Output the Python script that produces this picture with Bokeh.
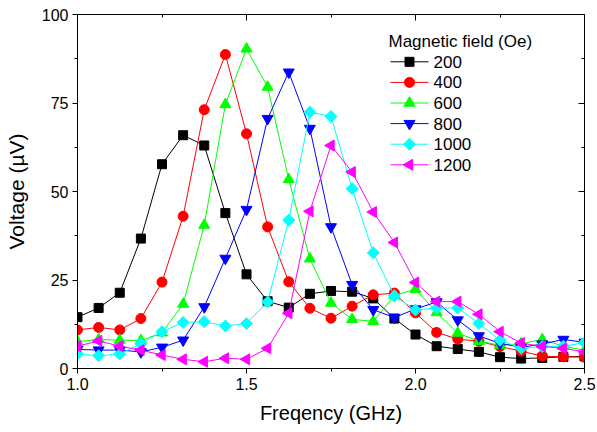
from bokeh.plotting import figure
from bokeh.models import LinearAxis, Range1d, FixedTicker, NumeralTickFormatter
from bokeh.core.properties import value
from bokeh.embed import file_html
from bokeh.resources import INLINE
import math

freq = [1.0, 1.0625, 1.125, 1.1875, 1.25, 1.3125, 1.375, 1.4375, 1.5, 1.5625,
        1.625, 1.6875, 1.75, 1.8125, 1.875, 1.9375, 2.0, 2.0625, 2.125, 2.1875,
        2.25, 2.3125, 2.375, 2.4375, 2.5]

v200 = [14.5, 17.1, 21.4, 36.7, 57.7, 65.9, 63.0, 43.9, 26.6, 19.0, 17.2, 21.1, 21.9,
        21.7, 19.8, 14.1, 9.6, 6.3, 5.5, 4.7, 3.2, 2.8, 3.0, 3.3, 3.4]
v400 = [10.9, 11.6, 10.9, 14.1, 24.4, 43.0, 73.1, 88.7, 66.3, 40.0, 24.5, 17.0, 14.2,
        17.6, 20.8, 21.3, 15.7, 10.2, 8.3, 7.7, 6.2, 4.9, 3.5, 3.3, 3.2]
v600 = [7.6, 8.2, 8.0, 7.9, 10.1, 18.2, 40.5, 74.6, 90.3, 79.5, 53.4, 31.0, 18.5,
        13.9, 13.3, 20.6, 22.4, 15.8, 10.0, 7.7, 6.6, 7.0, 8.2, 6.3, 5.1]
v800 = [5.4, 5.2, 5.2, 4.7, 6.0, 8.0, 17.4, 31.1, 44.9, 70.6, 83.7, 67.8, 40.0,
        23.7, 16.6, 14.4, 16.8, 18.8, 13.7, 9.2, 7.1, 6.0, 6.9, 8.2, 7.4]
v1000 = [4.1, 3.6, 4.1, 7.0, 10.4, 13.0, 13.2, 12.0, 12.7, 18.8, 41.9, 72.4, 71.2,
         50.8, 32.7, 20.5, 16.5, 17.1, 17.1, 12.7, 8.0, 5.7, 6.2, 6.3, 7.3]
v1200 = [6.3, 7.8, 6.3, 5.2, 3.8, 2.6, 1.9, 2.9, 2.6, 5.7, 15.6, 44.4, 63.0,
         55.5, 44.2, 35.6, 24.3, 18.9, 18.9, 15.3, 10.4, 7.2, 6.2, 5.7, 4.7]

labels = ["200", "400", "600", "800", "1000", "1200"]
series = [v200, v400, v600, v800, v1000, v1200]
legend_title = "Magnetic field (Oe)"

x_ticks = [1.0, 1.5, 2.0, 2.5]
x_minor = [1.25, 1.75, 2.25]
y_ticks = [0, 25, 50, 75, 100]
y_minor = [12.5, 37.5, 62.5, 87.5]

# styles
colors = ["#000000", "#ff0000", "#00ff00", "#0000ff", "#00ffff", "#ff00ff"]
markers = ["square", "circle", "triangle", "inverted_triangle", "square", "triangle"]
sizes = [9, 10, 11, 11, 8.5, 11]
angles = [0, 0, 0, 0, math.pi / 4, math.pi / 2]
FONT = "Liberation Sans"

X0, X1, Y0, Y1 = 1.0, 2.5, 0.0, 100.0
FL, FR, FT, FB = 77, 13, 14, 64        # borders (px)
W, H = 597, 432
FW, FH = W - FL - FR, H - FT - FB      # frame size (px)

p = figure(x_range=Range1d(X0, X1), y_range=Range1d(Y0, Y1),
           width=W, height=H,
           min_border_left=FL, min_border_right=FR, min_border_top=FT, min_border_bottom=FB,
           output_backend="svg", toolbar_location=None,
           x_axis_label="Freqency (GHz)", y_axis_label="Voltage (\u00b5V)")
p.xgrid.visible = False
p.ygrid.visible = False
p.outline_line_color = None

xt = FixedTicker(ticks=x_ticks, minor_ticks=x_minor)
yt = FixedTicker(ticks=y_ticks, minor_ticks=y_minor)

for ax in (p.xaxis[0], p.yaxis[0]):
    ax.major_tick_out = 5
    ax.major_tick_in = 0
    ax.minor_tick_out = 3
    ax.minor_tick_in = 0
    ax.axis_line_color = "black"
    ax.major_tick_line_color = "black"
    ax.minor_tick_line_color = "black"
    ax.major_label_text_font = FONT
    ax.major_label_text_font_size = "16px"
    ax.major_label_text_color = "black"
    ax.axis_label_text_font = FONT
    ax.axis_label_text_font_style = "normal"
    ax.axis_label_text_color = "black"
    ax.major_label_standoff = 4

p.xaxis[0].ticker = xt
p.yaxis[0].ticker = yt
p.xaxis[0].formatter = NumeralTickFormatter(format="0.0")
p.xaxis[0].axis_label_text_font_size = "20px"
p.yaxis[0].axis_label_text_font_size = "21px"
p.xaxis[0].axis_label_standoff = 9
p.yaxis[0].axis_label_standoff = 11

for loc, tk in (("above", xt), ("right", yt)):
    ax = LinearAxis(ticker=tk, axis_label=None)
    ax.major_tick_in = 6
    ax.major_tick_out = 0
    ax.minor_tick_in = 3
    ax.minor_tick_out = 0
    ax.major_label_text_font_size = "1px"
    ax.major_label_text_color = None
    ax.major_label_standoff = 0
    ax.axis_line_color = "black"
    ax.major_tick_line_color = "black"
    ax.minor_tick_line_color = "black"
    p.add_layout(ax, loc)

for ys, c, m, s, a in zip(series, colors, markers, sizes, angles):
    p.line(freq, ys, line_color=c, line_width=1)
    p.scatter(freq, ys, marker=m, size=s, angle=a, fill_color=c, line_color=c, line_width=1)

# legend drawn at a fixed pixel layout inside the frame (converted to data units)
def dx(px):
    return X0 + (px - FL) / FW * (X1 - X0)

def dy(py):
    return Y1 - (py - FT) / FH * (Y1 - Y0)

LEG_LEFT, LEG_TITLE_Y, ROW0, ROW_H = 388, 41, 61.3, 20.6
LINE_A, LINE_B, MARK_X, LAB_X = 390, 428, 409, 433

p.text(x=[dx(LEG_LEFT)], y=[dy(LEG_TITLE_Y)], text=[legend_title],
       text_font=value(FONT), text_font_size="17px", text_color="black",
       text_align="left", text_baseline="middle")
for k, (lab, c, m, s, a) in enumerate(zip(labels, colors, markers, sizes, angles)):
    yy = dy(ROW0 + k * ROW_H)
    p.segment(x0=[dx(LINE_A)], y0=[yy], x1=[dx(LINE_B)], y1=[yy], line_color=c, line_width=1)
    p.scatter(x=[dx(MARK_X)], y=[yy], marker=m, size=s, angle=a, fill_color=c, line_color=c)
    p.text(x=[dx(LAB_X)], y=[yy], text=[lab], text_font=value(FONT), text_font_size="17px",
           text_color="black", text_align="left", text_baseline="middle")

open("out.html", "w").write(file_html(p, INLINE))
